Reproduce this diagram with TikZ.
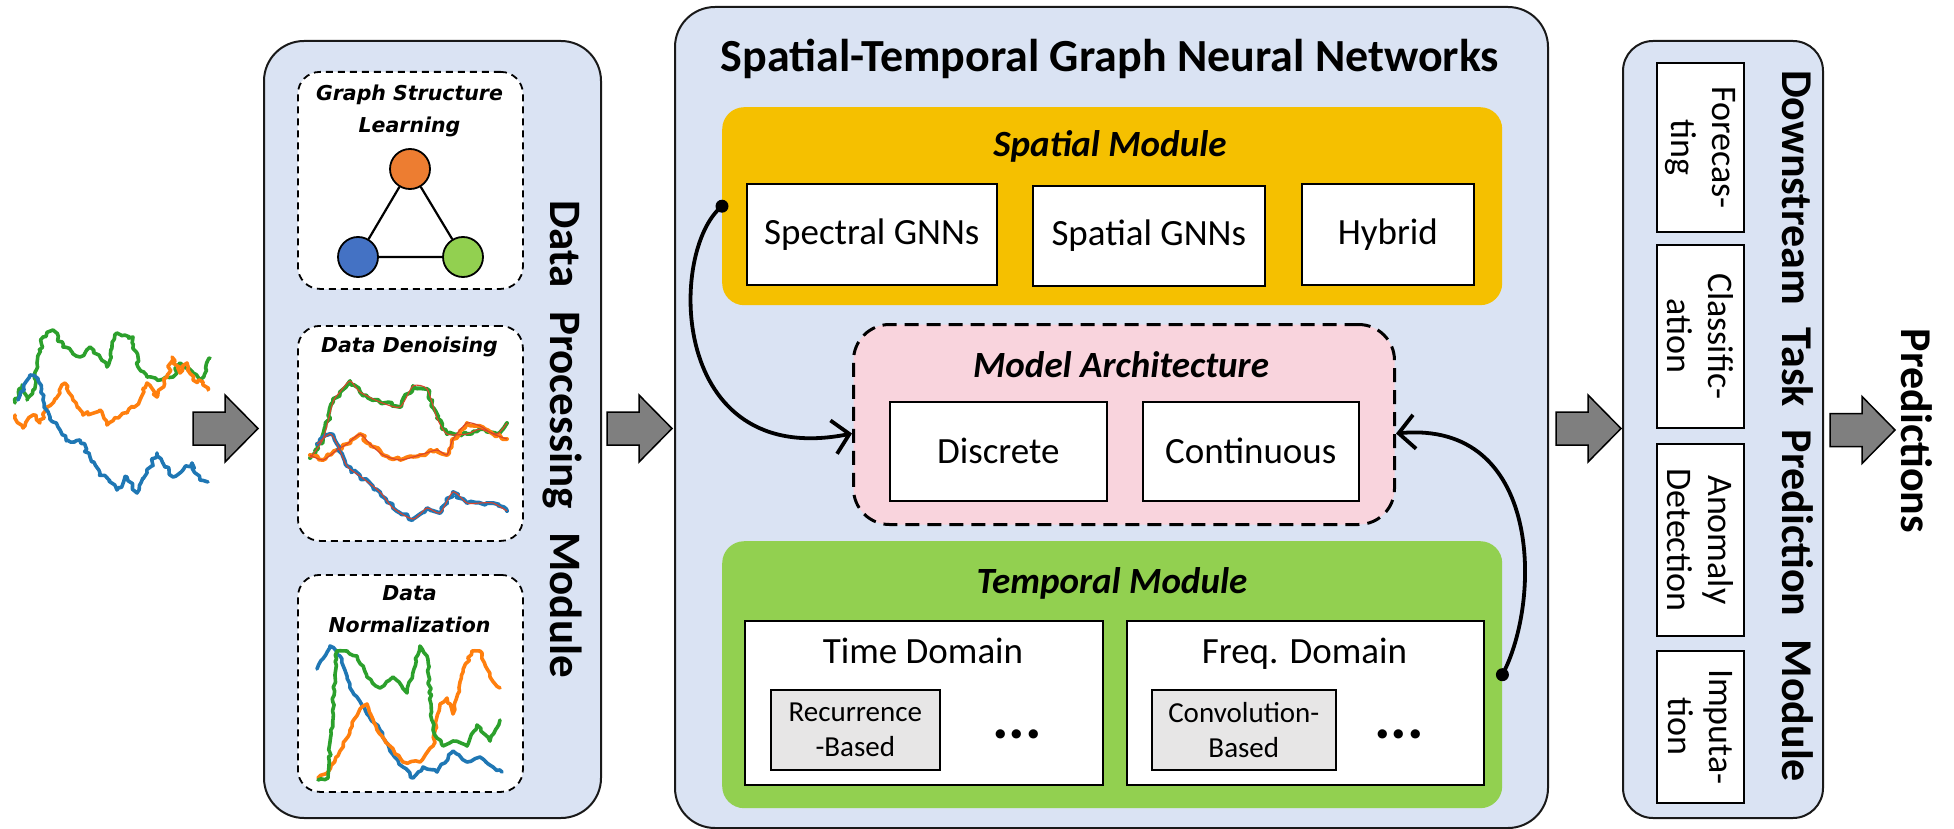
\documentclass[tikz,border=0pt]{standalone}
\usepackage{fontspec}
\setmainfont{Carlito}
\newfontfamily\wideface{DejaVu Sans}
\usetikzlibrary{arrows.meta,decorations.pathmorphing,calc}

\definecolor{panelblue}{HTML}{DAE3F3}
\definecolor{spatialgold}{HTML}{F5C000}
\definecolor{archpink}{HTML}{F9D4DD}
\definecolor{tempgreen}{HTML}{92D050}
\definecolor{subgray}{HTML}{E7E6E6}
\definecolor{arrowgray}{HTML}{7F7F7F}
\definecolor{mplblue}{HTML}{1F77B4}
\definecolor{mplorange}{HTML}{FF7F0E}
\definecolor{mplgreen}{HTML}{2CA02C}
\definecolor{nodeorange}{HTML}{ED7D31}
\definecolor{nodeblue}{HTML}{4472C4}
\definecolor{nodegreen}{HTML}{92D050}
\definecolor{smoothred}{HTML}{D9442B}

\tikzset{
  panel/.style={draw=black!90, line width=2pt, fill=panelblue, rounded corners=40pt, inner sep=0pt, anchor=north west},
  modbox/.style={draw=none, rounded corners=22pt, inner sep=0pt, anchor=north west},
  archbox/.style={draw=black, line width=3pt, dash pattern=on 14pt off 8pt, fill=archpink, rounded corners=36pt, inner sep=0pt, anchor=north west},
  dashbox/.style={draw=black, line width=1.8pt, dash pattern=on 7pt off 5pt, fill=white, rounded corners=22pt, inner sep=0pt, anchor=north west},
  whitebox/.style={draw=black, line width=1.6pt, fill=white, inner sep=0pt, anchor=north west, align=center},
  graybox/.style={draw=black, line width=1.6pt, fill=subgray, inner sep=0pt, anchor=north west, align=center},
  boxtext/.style={font=\fontsize{37}{44}\selectfont},
  smalltext/.style={font=\fontsize{29}{35}\selectfont},
  headtext/.style={font=\fontsize{37}{44}\selectfont\bfseries\itshape, anchor=base},
  sidetitle/.style={font=\fontsize{45}{54}\selectfont\bfseries, rotate=-90},
  dptext/.style={font=\wideface\fontsize{20.5}{32}\selectfont\bfseries\itshape, align=center},
  tasktext/.style={font=\fontsize{36}{41}\selectfont, rotate=-90, align=center},
  gnode/.style={circle, draw=black, line width=1.8pt, minimum size=40pt, inner sep=0pt},
  series/.style={line width=3.6pt, line join=round, line cap=round, decorate,
    decoration={random steps, segment length=3.5pt, amplitude=2.2pt}},
  softseries/.style={line width=3.6pt, line join=round, line cap=round, decorate,
    decoration={random steps, segment length=4pt, amplitude=1.4pt}},
  redline/.style={line width=1.1pt, smoothred, line join=round},
  curvearrow/.style={line width=3.8pt, -{Straight Barb[length=16pt,width=34pt]}},
  fatarrow/.pic={
    \draw[line width=1.5pt, fill=arrowgray, line join=miter]
      (0,-16.5) -- (32,-16.5) -- (32,-33.5) -- (65,0) -- (32,33.5) -- (32,16.5) -- (0,16.5) -- cycle;
  }
}

\begin{document}
\begin{tikzpicture}[x=1pt,y=-1pt]
\pgfmathsetseed{2024}
\useasboundingbox (0,0) rectangle (1954,829);

% ---------- input time series ----------
\draw[series, mplgreen] (15,403) -- (22,385) -- (27,400) -- (33,390) -- (37,363) -- (43,337) -- (53,330) -- (63,347) -- (80,357) -- (90,347) -- (100,357) -- (107,367) -- (117,333) -- (133,337) -- (138,367) -- (147,377) -- (160,380) -- (173,377) -- (180,363) -- (193,373) -- (200,380) -- (210,358);
\draw[series, mplorange] (15,415) -- (23,428) -- (33,415) -- (40,423) -- (47,407) -- (60,393) -- (65,383) -- (73,400) -- (83,415) -- (100,410) -- (107,425) -- (127,413) -- (140,400) -- (147,383) -- (157,397) -- (167,377) -- (172,357) -- (180,373) -- (187,363) -- (193,380) -- (203,382) -- (208,390);
\draw[series, mplblue] (18,400) -- (30,375) -- (38,380) -- (43,400) -- (50,417) -- (58,427) -- (67,440) -- (80,440) -- (90,457) -- (100,473) -- (117,490) -- (127,477) -- (137,493) -- (147,473) -- (157,453) -- (167,467) -- (173,477) -- (183,470) -- (192,463) -- (200,480) -- (208,482);

% ---------- panels ----------
\node[panel, minimum width=337pt, minimum height=777pt] (dp) at (263,40) {};
\node[panel, minimum width=873pt, minimum height=821pt] (st) at (674,6) {};
\node[panel, rounded corners=30pt, minimum width=200pt, minimum height=777pt] (ds) at (1622,40) {};

% ---------- block arrows between stages ----------
\pic at (193,428.5) {fatarrow};
\pic at (607,428.5) {fatarrow};
\pic at (1556,428.5) {fatarrow};
\pic at (1830,430) {fatarrow};

% ---------- data processing module ----------
\node[dashbox, minimum width=225pt, minimum height=217pt] (gsl) at (297,71) {};
\node[dashbox, minimum width=225pt, minimum height=215pt] (dn) at (297,325) {};
\node[dashbox, minimum width=225pt, minimum height=217pt] (nm) at (297,574) {};

\node[dptext] (gsltext) at (409.5,111) {Graph Structure\\Learning};
\node[dptext] (dntext) at (409.5,347) {Data Denoising};
\node[dptext] (nmtext) at (409.5,609) {Data\\Normalization};

\node[gnode, fill=nodeorange] (ga) at (410,169) {};
\node[gnode, fill=nodeblue] (gb) at (358,257) {};
\node[gnode, fill=nodegreen] (gc) at (463,257) {};
\draw[line width=2.2pt] (ga) -- (gb) (gb) -- (gc) (gc) -- (ga);

% denoising plot: noisy series with smoothed overlays
\draw[series, mplgreen, line width=4pt] (310,458) -- (323,439) -- (333,402) -- (340,392) -- (350,381) -- (360,392) -- (380,402) -- (400,407) -- (413,386) -- (427,389) -- (437,418) -- (447,434) -- (467,434) -- (480,429) -- (497,434) -- (507,423);
\draw[series, mplorange, line width=4pt] (310,455) -- (323,460) -- (337,450) -- (347,444) -- (360,434) -- (370,444) -- (383,455) -- (400,460) -- (420,455) -- (437,450) -- (447,455) -- (453,439) -- (467,423) -- (480,426) -- (493,434) -- (507,439);
\draw[series, mplblue, line width=4pt] (317,444) -- (330,434) -- (337,444) -- (347,466) -- (360,476) -- (380,492) -- (393,508) -- (413,519) -- (427,508) -- (440,513) -- (453,492) -- (467,503) -- (480,503) -- (493,503) -- (507,511);
\draw[redline] plot[smooth, tension=0.4] coordinates {(310,458) (323,439) (333,402) (340,392) (350,381) (360,392) (380,402) (400,407) (413,386) (427,389) (437,418) (447,434) (467,434) (480,429) (497,434) (507,423)};
\draw[redline] plot[smooth, tension=0.4] coordinates {(310,455) (323,460) (337,450) (347,444) (360,434) (370,444) (383,455) (400,460) (420,455) (437,450) (447,455) (453,439) (467,423) (480,426) (493,434) (507,439)};
\draw[redline] plot[smooth, tension=0.4] coordinates {(317,444) (330,434) (337,444) (347,466) (360,476) (380,492) (393,508) (413,519) (427,508) (440,513) (453,492) (467,503) (480,503) (493,503) (507,511)};

% normalization plot
\draw[softseries, mplblue] (317,669) -- (330,646) -- (340,656) -- (350,688) -- (367,714) -- (380,730) -- (390,751) -- (403,767) -- (413,778) -- (423,767) -- (437,772) -- (453,751) -- (467,762) -- (480,757) -- (493,767) -- (502,772);
\draw[softseries, mplorange] (318,778) -- (328,772) -- (340,751) -- (350,730) -- (360,709) -- (367,704) -- (377,730) -- (390,746) -- (403,762) -- (420,762) -- (433,746) -- (440,704) -- (447,698) -- (453,714) -- (463,672) -- (472,651) -- (480,651) -- (490,677) -- (500,688);
\draw[softseries, mplgreen] (318,780) -- (328,778) -- (337,651) -- (347,651) -- (357,656) -- (367,677) -- (380,688) -- (393,677) -- (407,693) -- (420,646) -- (427,656) -- (433,730) -- (443,746) -- (453,741) -- (467,746) -- (477,725) -- (490,741) -- (500,720);

\node[sidetitle] (dptitle) at (562,439) {Data\hspace{0.3em} Processing\hspace{0.3em} Module};

% ---------- spatial-temporal GNN ----------
\node[font=\fontsize{46}{54}\selectfont\bfseries, anchor=base] (sttitle) at (1110,72) {Spatial-Temporal Graph Neural Networks};

\node[modbox, fill=spatialgold, minimum width=780pt, minimum height=198pt] (spatial) at (722,107) {};
\node[headtext] (spatialhead) at (1110,157) {Spatial Module};
\node[whitebox, boxtext, minimum width=250pt, minimum height=101pt] (spectral) at (746,183) {Spectral GNNs};
\node[whitebox, boxtext, minimum width=232pt, minimum height=100pt] (spatialgnn) at (1032,185) {Spatial GNNs};
\node[whitebox, boxtext, minimum width=172pt, minimum height=101pt] (hybrid) at (1301,183) {Hybrid};

\node[archbox, minimum width=541pt, minimum height=200pt] (arch) at (852,323) {};
\node[headtext] (archhead) at (1121,377) {Model Architecture};
\node[whitebox, boxtext, minimum width=217pt, minimum height=99pt] (discrete) at (889,401) {Discrete};
\node[whitebox, boxtext, minimum width=216pt, minimum height=99pt] (continuous) at (1142,401) {Continuous};

\node[modbox, fill=tempgreen, minimum width=780pt, minimum height=267pt] (temporal) at (722,541) {};
\node[headtext] (temphead) at (1112,593) {Temporal Module};
\node[whitebox, minimum width=358pt, minimum height=164pt] (timedom) at (744,620) {};
\node[whitebox, minimum width=357pt, minimum height=164pt] (freqdom) at (1126,620) {};
\node[boxtext, anchor=base] (timelabel) at (923,663) {Time Domain};
\node[boxtext, anchor=base] (freqlabel) at (1304.5,663) {Freq. Domain};
\node[graybox, smalltext, minimum width=169pt, minimum height=80pt] (recur) at (770,689) {Recurrence\\-Based};
\node[graybox, smalltext, minimum width=184pt, minimum height=80pt] (conv) at (1151,689) {Convolution-\\Based};
\node[font=\fontsize{62}{62}\selectfont\bfseries, anchor=base] (timedots) at (1017,738) {...};
\node[font=\fontsize{62}{62}\selectfont\bfseries, anchor=base] (freqdots) at (1399,738) {...};

% links into the model architecture
\draw[curvearrow] (spatial.west) .. controls (668,250) and (668,470) .. ($(arch.west)+(0,9)$);
\fill (spatial.west) circle (6.5pt);
\draw[curvearrow] (temporal.east) .. controls (1542,600) and (1542,420) .. ($(arch.east)+(0,9)$);
\fill (temporal.east) circle (6.5pt);

% ---------- downstream tasks ----------
\node[whitebox, minimum width=87pt, minimum height=169pt] (fc) at (1656,62) {};
\node[whitebox, minimum width=87pt, minimum height=183pt] (cl) at (1656,244) {};
\node[whitebox, minimum width=87pt, minimum height=192pt] (ad) at (1656,443) {};
\node[whitebox, minimum width=87pt, minimum height=152pt] (im) at (1656,650) {};
\node[tasktext] (fctext) at (fc.center) {Forecas-\\ting};
\node[tasktext] (cltext) at (cl.center) {Classific-\\ation};
\node[tasktext] (adtext) at (ad.center) {Anomaly\\Detection};
\node[tasktext] (imtext) at (im.center) {Imputa-\\tion};
\node[sidetitle, font=\fontsize{44}{52}\selectfont\bfseries] (dstitle) at (1798,426) {Downstream\hspace{0.3em} Task\hspace{0.3em} Prediction\hspace{0.3em} Module};

\node[sidetitle, font=\fontsize{44}{52}\selectfont\bfseries] (pred) at (1917,431) {Predictions};
\end{tikzpicture}
\end{document}
